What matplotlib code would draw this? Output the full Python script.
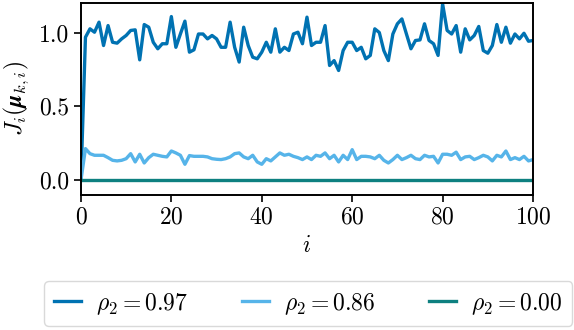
import numpy as np
import matplotlib
matplotlib.use('Agg')
import matplotlib.pyplot as plt

plt.rcParams['mathtext.fontset'] = 'cm'
plt.rcParams['font.family'] = 'serif'
plt.rcParams['font.serif'] = ['cmr10', 'DejaVu Serif']
plt.rcParams['axes.formatter.use_mathtext'] = True
plt.rcParams['font.size'] = 17

# data (i = 0..100)
i_vals = np.arange(0, 101)

rho_097 = [0.0, 0.968, 1.025, 1.002, 1.07, 0.912, 1.047, 0.934, 0.928, 0.957,
           0.98, 1.014, 1.018, 0.815, 1.054, 1.036, 0.934, 0.89, 0.924, 0.924,
           1.108, 0.90, 0.99, 1.077, 0.867, 0.883, 0.99, 0.99, 0.957, 0.98,
           0.957, 0.90, 0.90, 1.07, 0.90, 0.80, 1.036, 0.912, 0.833, 0.822,
           0.867, 0.934, 0.867, 1.025, 0.867, 0.90, 0.878, 0.99, 1.002, 0.924,
           1.104, 0.912, 0.934, 0.934, 1.047, 0.777, 0.81, 0.743, 0.878, 0.934,
           0.934, 0.878, 0.90, 0.822, 0.845, 1.025, 1.0, 0.878, 0.81, 0.99,
           1.059, 1.092, 0.99, 0.89, 0.946, 0.95, 1.059, 0.946, 0.924, 0.845,
           1.194, 1.014, 0.99, 1.047, 0.867, 1.025, 0.95, 0.98, 1.041, 0.878,
           0.86, 0.912, 1.054, 0.934, 1.036, 0.928, 0.99, 0.957, 0.995, 0.941,
           0.946]

rho_086 = [0.0, 0.214, 0.18, 0.169, 0.169, 0.169, 0.153, 0.135, 0.131, 0.135,
           0.146, 0.18, 0.124, 0.176, 0.117, 0.153, 0.176, 0.169, 0.162, 0.158,
           0.198, 0.185, 0.169, 0.108, 0.167, 0.162, 0.162, 0.162, 0.158, 0.146,
           0.142, 0.14, 0.146, 0.158, 0.18, 0.185, 0.158, 0.146, 0.169, 0.124,
           0.108, 0.146, 0.131, 0.158, 0.185, 0.169, 0.176, 0.162, 0.153, 0.14,
           0.158, 0.14, 0.169, 0.162, 0.185, 0.146, 0.169, 0.124, 0.169, 0.14,
           0.207, 0.14, 0.162, 0.162, 0.158, 0.146, 0.169, 0.135, 0.117, 0.14,
           0.169, 0.14, 0.153, 0.169, 0.146, 0.14, 0.169, 0.158, 0.162, 0.117,
           0.176, 0.176, 0.169, 0.19, 0.14, 0.158, 0.162, 0.14, 0.153, 0.169,
           0.158, 0.131, 0.169, 0.158, 0.198, 0.14, 0.153, 0.14, 0.162, 0.131,
           0.14]

rho_000 = [0.0] * 101

labels = [r'$\rho_2 = 0.97$', r'$\rho_2 = 0.86$', r'$\rho_2 = 0.00$']
colors = ['#0072b2', '#56b4e9', '#0e8080']

fig = plt.figure(figsize=(5.74, 3.3), dpi=100)
ax = fig.add_axes([0.141, 0.409, 0.7876, 0.582])

for ys, lab, col in zip([rho_097, rho_086, rho_000], labels, colors):
    ax.plot(i_vals, ys, color=col, linewidth=2.4, label=lab)

ax.set_xlim(0, 100)
ax.set_ylim(-0.1, 1.2)
ax.set_xticks([0, 20, 40, 60, 80, 100])
ax.set_yticks([0.0, 0.5, 1.0])
ax.set_yticklabels(['0.0', '0.5', '1.0'])
ax.tick_params(length=5, width=1.2)
ax.set_xlabel(r'$i$', labelpad=4)
ax.set_ylabel(r'$J_i(\boldsymbol{\mu}_{k,i})$', labelpad=6)
for sp in ax.spines.values():
    sp.set_linewidth(1.4)

fig.legend(loc='lower left', bbox_to_anchor=(0.077, 0.012, 0.92, 0.13),
           mode='expand', ncol=3, frameon=True, fancybox=True,
           handlelength=1.15, handletextpad=0.65, fontsize=17,
           borderaxespad=0, edgecolor='#d0d0d0')

fig.savefig('out.png', dpi=100)
